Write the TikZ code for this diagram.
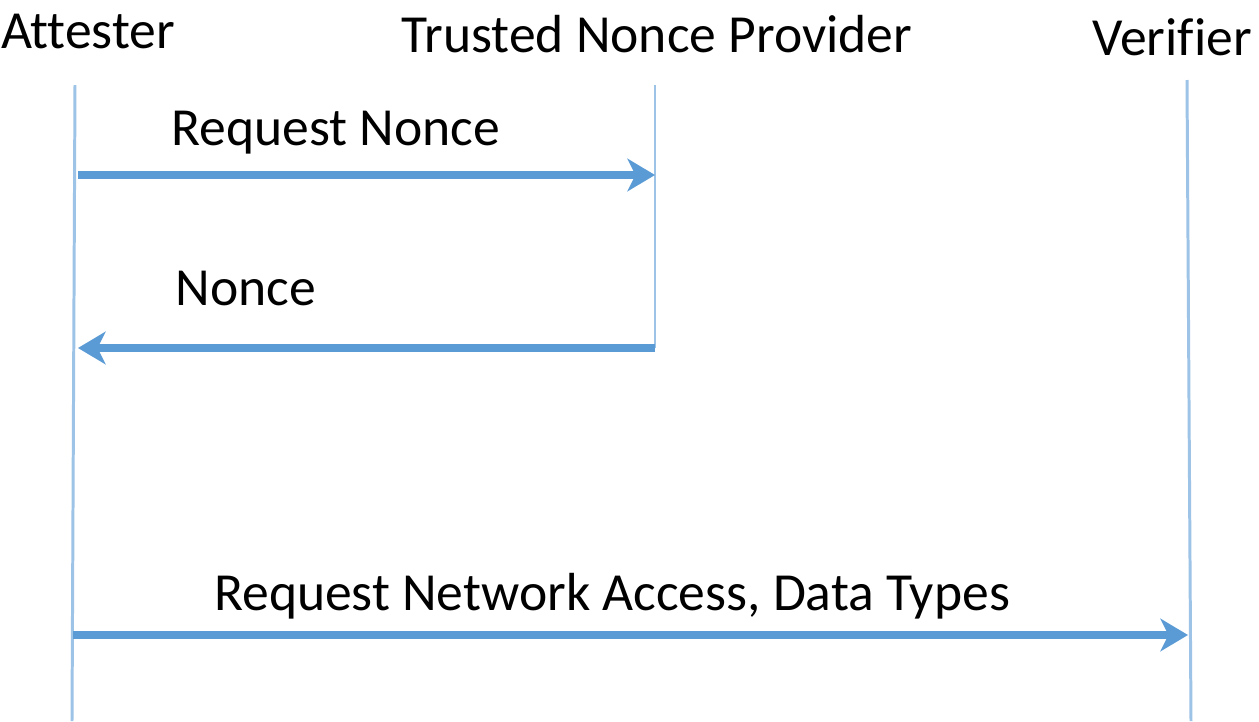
\documentclass[tikz,border=0pt]{standalone}
\usepackage{fontspec}
\setmainfont{Carlito}[Ligatures=CommonOff]
\usepackage{tikz}
\usepackage{xcolor}
\usetikzlibrary{arrows.meta}

\definecolor{lifeblue}{HTML}{9DC3E6}
\definecolor{msgblue}{HTML}{5B9BD5}

\begin{document}
\begin{tikzpicture}[
    x=0.02cm, y=-0.02cm,
    font=\fontsize{30.5}{36}\selectfont,
    lifeline/.style={draw=lifeblue, line width=1.7pt},
    msg/.style={draw=msgblue, line width=4.2pt,
        -{Stealth[length=0.55cm, width=0.65cm, inset=0.16cm]}},
    label/.style={anchor=base, inner sep=0pt}
]
    \useasboundingbox (0,0) rectangle (1259,721);

    % Coordinates
    \coordinate (att_top) at (75, 85);
    \coordinate (att_bot) at (72, 721);
    \coordinate (tnp_top) at (655, 85);
    \coordinate (tnp_bot) at (655, 348);
    \coordinate (ver_top) at (1187, 80);
    \coordinate (ver_bot) at (1191, 721);

    \coordinate (req_from) at (78, 175);
    \coordinate (req_to)   at (655, 175);
    \coordinate (non_to)   at (78, 348);
    \coordinate (acc_from) at (73, 635);
    \coordinate (acc_to)   at (1188, 635);

    % Parties
    \node[label] (attester) at (88, 48) {Attester};
    \node[label] (tnp) at (657, 52) {Trusted Nonce Provider};
    \node[label] (verifier) at (1172, 55) {Verifier};

    % Lifelines
    \draw[lifeline] (att_top) -- (att_bot);
    \draw[lifeline] (tnp_top) -- (tnp_bot);
    \draw[lifeline] (ver_top) -- (ver_bot);

    % Messages
    \draw[msg] (req_from) -- (req_to);
    \draw[msg] (tnp_bot) -- (non_to);
    \draw[msg] (acc_from) -- (acc_to);

    \node[label] (req_lbl) at (336, 145) {Request Nonce};
    \node[label] (non_lbl) at (246, 305) {Nonce};
    \node[label] (acc_lbl) at (612, 610) {Request Network Access, Data Types};

\end{tikzpicture}
\end{document}
